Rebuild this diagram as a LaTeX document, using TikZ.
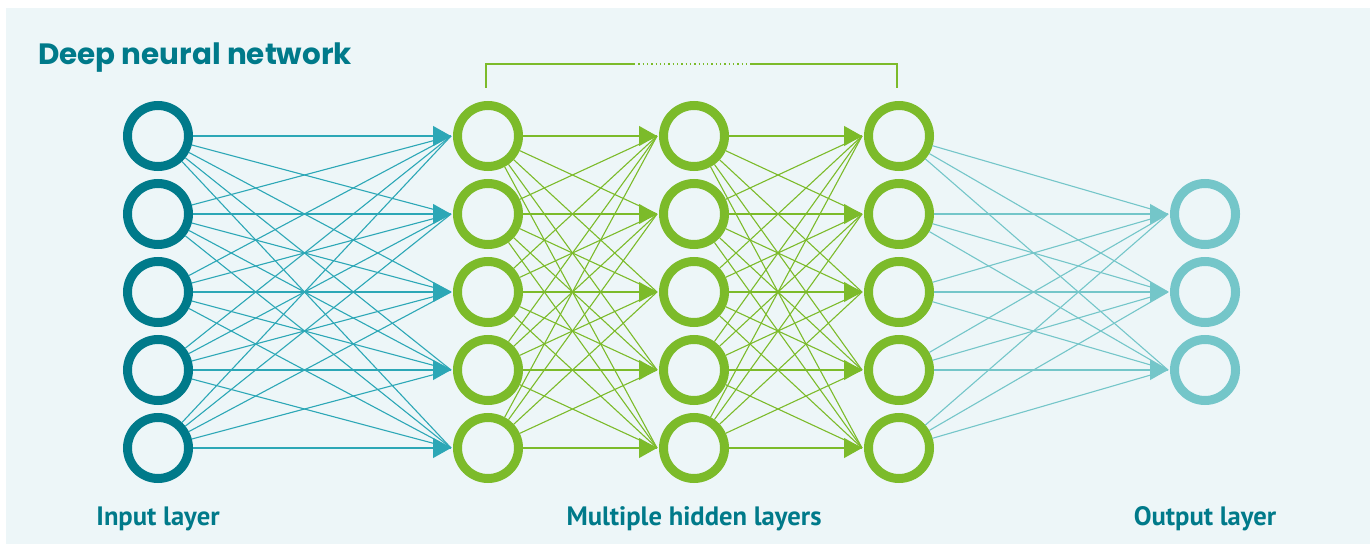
\documentclass[tikz,border=0pt]{standalone}
\usepackage{fontspec}
\usepackage{tikz}
\usetikzlibrary{arrows.meta}
\newfontfamily\titlefont{Poppins}
\newfontfamily\labelfont{PT Sans}
\definecolor{bgteal}{HTML}{EDF6F8}
\definecolor{darkteal}{HTML}{007A8A}
\definecolor{midteal}{HTML}{2CA7B6}
\definecolor{lightteal}{HTML}{74C6C9}
\definecolor{leafgreen}{HTML}{7CBB2A}

\begin{document}
\begin{tikzpicture}[x=1bp,y={(0bp,-1bp)},
    neuron/.style={circle,draw=#1,line width=9bp,minimum size=61bp,inner sep=0pt,outer sep=6.5bp},
    wire/.style={draw=#1,line width=1.1bp,shorten <=-2bp},
    inarrow/.style={draw=#1,line width=1.1bp,-{Triangle[length=18bp,width=20bp]}},
    layername/.style={font=\labelfont\bfseries\fontsize{26.7}{30}\selectfont,text=darkteal,anchor=base}]
    % page and panel
    \useasboundingbox (0,0) rectangle (1370,544);
    \fill[bgteal] (6,8) rectangle (1370,544);
    \node[anchor=base west,inner sep=0pt,text=darkteal,font=\titlefont\bfseries\fontsize{29.5}{32}\selectfont] (title) at (38,65) {Deep neural network};

    % layers of neurons
    \foreach \j in {1,...,5} {
        \node[neuron=darkteal]  (in-\j) at (158,58+78*\j) {};
        \node[neuron=leafgreen] (h1-\j) at (488,58+78*\j) {};
        \node[neuron=leafgreen] (h2-\j) at (694,58+78*\j) {};
        \node[neuron=leafgreen] (h3-\j) at (899,58+78*\j) {};
    }
    \foreach \j in {1,2,3}
        \node[neuron=lightteal] (out-\j) at (1205,136+78*\j) {};

    % connections
    \foreach \i in {1,...,5} {
        \foreach \j in {1,...,5} {
            \draw[wire=midteal]   (in-\i) -- (h1-\j.west);
            \draw[wire=leafgreen] (h1-\i) -- (h2-\j.west);
            \draw[wire=leafgreen] (h2-\i) -- (h3-\j.west);
        }
        \foreach \j in {1,2,3}
            \draw[wire=lightteal] (h3-\i) -- (out-\j.west);
    }

    % one arrow head in front of every neuron
    \foreach \j in {1,...,5} {
        \draw[inarrow=midteal]   ([xshift=-19bp]h1-\j.west) -- (h1-\j.west);
        \draw[inarrow=leafgreen] ([xshift=-19bp]h2-\j.west) -- (h2-\j.west);
        \draw[inarrow=leafgreen] ([xshift=-19bp]h3-\j.west) -- (h3-\j.west);
    }
    \foreach \j in {1,2,3}
        \draw[inarrow=lightteal] ([xshift=-19bp]out-\j.west) -- (out-\j.west);

    % bracket over the hidden layers
    \coordinate (brL) at (486,88);
    \coordinate (brR) at (897,88);
    \coordinate (gapL) at (634,64);
    \coordinate (gapR) at (750,64);
    \draw[leafgreen,line width=1.3bp] (brL) |- (gapL);
    \draw[leafgreen,line width=1.3bp,dash pattern=on 1.3bp off 3bp] (gapL) -- (gapR);
    \draw[leafgreen,line width=1.3bp] (gapR) -| (brR);

    % layer names
    \node[layername] (inlabel)  at (158,525) {Input layer};
    \node[layername] (hidlabel) at (694,525) {Multiple hidden layers};
    \node[layername] (outlabel) at (1205,525) {Output layer};
\end{tikzpicture}
\end{document}
